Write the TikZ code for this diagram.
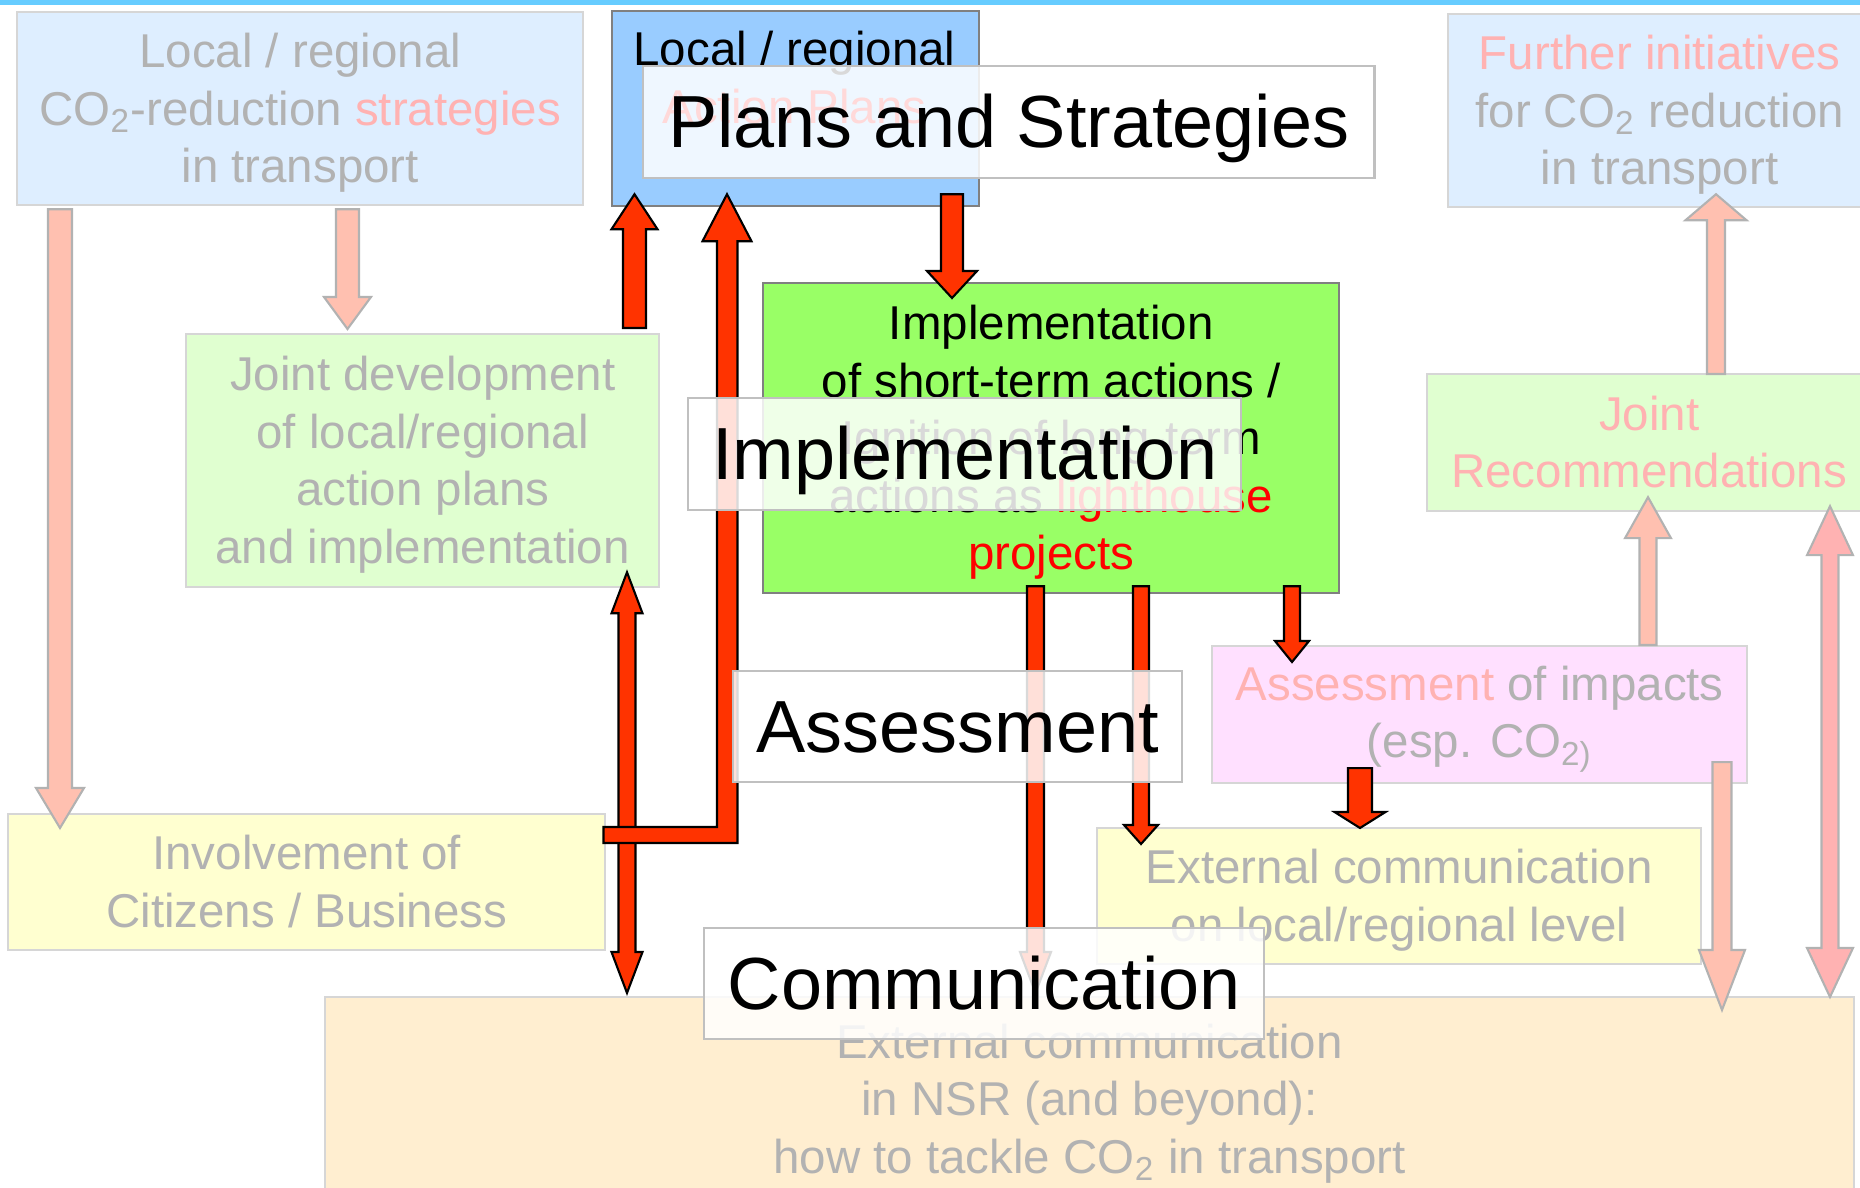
\documentclass[tikz,border=0pt]{standalone}
\usepackage{fontspec}
\setmainfont{Liberation Sans}
\usetikzlibrary{calc}
\definecolor{topbar}{RGB}{102,204,255}
\definecolor{fadegray}{RGB}{178,178,178}
\definecolor{fadepink}{RGB}{255,178,178}
\definecolor{lineLight}{RGB}{214,214,214}
\definecolor{lineDark}{RGB}{128,128,128}
\definecolor{lineStage}{RGB}{192,192,192}
\definecolor{fillStrat}{RGB}{222,238,255}
\definecolor{fillPlans}{RGB}{153,204,255}
\definecolor{fillImpl}{RGB}{153,255,102}
\definecolor{fillJoint}{RGB}{224,255,208}
\definecolor{fillCiti}{RGB}{255,255,208}
\definecolor{fillImpact}{RGB}{255,224,255}
\definecolor{fillNsr}{RGB}{255,238,208}
\definecolor{arrRed}{RGB}{255,51,0}
\definecolor{arrPale}{RGB}{255,192,176}
\definecolor{arrPink}{RGB}{255,178,178}
\newcommand{\ps}{\rule[-0.212em]{0pt}{1.117em}}
\newcommand{\smallfont}{\fontsize{13.5}{16.36}\selectfont}
\newcommand{\bigfont}{\fontsize{21}{25}\selectfont}
\newcommand{\blockarr}[6]{%
  \path[#1] let \p1=#2, \p2=#3, \n1={ifthenelse(\y2>\y1,1,-1)} in
    ({\x1-#4*0.01cm},{\y1}) -- ({\x1-#4*0.01cm},{\y2-(\n1)*#6*0.01cm})
    -- ({\x1-#5*0.01cm},{\y2-(\n1)*#6*0.01cm}) -- ({\x1},{\y2})
    -- ({\x1+#5*0.01cm},{\y2-(\n1)*#6*0.01cm}) -- ({\x1+#4*0.01cm},{\y2-(\n1)*#6*0.01cm})
    -- ({\x1+#4*0.01cm},{\y1}) -- cycle;}
\newcommand{\dblarr}[6]{%
  \path[#1] let \p1=#2, \p2=#3, \n1={ifthenelse(\y2>\y1,1,-1)} in
    ({\x1},{\y1}) -- ({\x1+#5*0.01cm},{\y1+(\n1)*#6*0.01cm}) -- ({\x1+#4*0.01cm},{\y1+(\n1)*#6*0.01cm})
    -- ({\x1+#4*0.01cm},{\y2-(\n1)*#6*0.01cm}) -- ({\x1+#5*0.01cm},{\y2-(\n1)*#6*0.01cm})
    -- ({\x1},{\y2}) -- ({\x1-#5*0.01cm},{\y2-(\n1)*#6*0.01cm}) -- ({\x1-#4*0.01cm},{\y2-(\n1)*#6*0.01cm})
    -- ({\x1-#4*0.01cm},{\y1+(\n1)*#6*0.01cm}) -- ({\x1-#5*0.01cm},{\y1+(\n1)*#6*0.01cm}) -- cycle;}
\begin{document}
\begin{tikzpicture}[x=0.01cm, y=-0.01cm,
        plain/.style={align=center, inner sep=0pt, font=\smallfont},
        box/.style={plain, draw=lineLight, line width=0.6pt, anchor=north west, text=fadegray},
        stage/.style={draw=lineStage, fill=white, fill opacity=0.85, text opacity=1, line width=0.6pt, anchor=north west, inner sep=0pt, font=\bigfont, execute at begin node=\ps},
        pale/.style={fill=arrPale, draw=fadegray, line width=0.6pt},
        redarr/.style={fill=arrRed, draw=black, line width=0.6pt}]
        \useasboundingbox (0,0) rectangle (1860,1188);
        \clip (0,0) rectangle (1860,1188);
        \fill[topbar] (0,0) rectangle (1860,5);
        \node[box, fill=fillStrat, minimum width=5.66cm, minimum height=1.93cm] (strat) at (16,11) {\ps Local / regional\\ CO\textsubscript{2}-reduction \textcolor{fadepink}{strategies}\\ in transport\ps};
        \node[box, draw=lineDark, fill=fillPlans, minimum width=3.67cm, minimum height=1.95cm] (plans) at (611,10) {};
        \node[plain, anchor=north] (plantxt) at (794.5,22) {\ps Local / regional\\ \textcolor{red}{Action Plans}\ps};
        \node[box, draw=lineDark, fill=fillImpl, text=black, minimum width=5.76cm, minimum height=3.10cm] (impl) at (762,282) {\ps Implementation\\ of short-term actions /\\ Ignition of long-term\\ actions as \textcolor{red}{lighthouse}\\ \textcolor{red}{projects}\ps};
        \node[box, fill=fillJoint, minimum width=4.73cm, minimum height=2.53cm] (dev) at (185,333) {\ps Joint development\\ of local/regional\\ action plans\\ and implementation\ps};
        \node[box, fill=fillCiti, minimum width=5.97cm, minimum height=1.36cm] (citi) at (7,813) {\ps Involvement of\\ Citizens / Business\ps};
        \node[box, fill=fillStrat, minimum width=4.23cm, minimum height=1.93cm] (further) at (1447,13) {\ps\textcolor{fadepink}{Further initiatives}\\ for CO\textsubscript{2} reduction\\ in transport\ps};
        \node[box, fill=fillJoint, text=fadepink, minimum width=4.44cm, minimum height=1.37cm] (recom) at (1426,373) {\ps Joint\\ Recommendations\ps};
        \node[box, fill=fillImpact, minimum width=5.35cm, minimum height=1.37cm] (impact) at (1211,645) {\ps\textcolor{fadepink}{Assessment} of impacts\\ (esp. CO\textsubscript{2)}\ps};
        \node[box, fill=fillCiti, minimum width=6.04cm, minimum height=1.36cm] (extloc) at (1096,827) {\ps External communication\\ on local/regional level\ps};
        \node[box, fill=fillNsr, minimum width=15.28cm, minimum height=2.04cm] (extnsr) at (324,996) {\ps External communication\\ in NSR (and beyond):\\ how to tackle CO\textsubscript{2} in transport\ps};
        \coordinate (cP1) at (60,0);
        \coordinate (cP2) at (347.5,0);
        \coordinate (cP3) at (1716,0);
        \coordinate (cP4) at (1648,0);
        \coordinate (cP5) at (1830,0);
        \coordinate (cP6) at (1722,0);
        \coordinate (cR1) at (634.5,0);
        \coordinate (cR2) at (727,0);
        \coordinate (cR3) at (627,0);
        \coordinate (cR4) at (952,0);
        \coordinate (cR5) at (1035.5,0);
        \coordinate (cR6) at (1141,0);
        \coordinate (cR7) at (1292,0);
        \coordinate (cR8) at (1360,0);
        \blockarr{pale}{($(cP1 |- strat.south)+(0,3)$)}{($(cP1 |- citi.north)+(0,15)$)}{12}{24}{40}
        \blockarr{pale}{($(cP2 |- strat.south)+(0,3)$)}{($(cP2 |- dev.north)+(0,-4)$)}{11.5}{23.5}{32}
        \blockarr{pale}{($(cP3 |- recom.north)+(0,1)$)}{($(cP3 |- further.south)+(0,-14)$)}{9}{30.5}{26}
        \blockarr{pale}{(cP4 |- impact.north)}{($(cP4 |- recom.south)+(0,-15)$)}{8.5}{23}{41}
        \dblarr{pale, fill=arrPink}{($(cP5 |- recom.south)+(0,-6)$)}{($(cP5 |- extnsr.north)+(0,1)$)}{8.5}{23}{49}
        \blockarr{pale}{($(cP6 |- impact.south)+(0,-22)$)}{($(cP6 |- extnsr.north)+(0,14)$)}{9.5}{23}{60}
        \blockarr{redarr}{($(cR1 |- dev.north)+(0,-5)$)}{($(cR1 |- plans.south)+(0,-13)$)}{11.5}{23}{35}
        \dblarr{redarr}{($(cR3 |- dev.south)+(0,-16)$)}{($(cR3 |- extnsr.north)+(0,-3)$)}{8.5}{15.5}{41}
        \path[redarr] let \p1=($(citi.north east)+(-3,14)$), \p2=($(cR2 |- plans.south)+(0,-13)$) in
            ({\x1},{\y1}) -- ({\x2-10*0.01cm},{\y1}) -- ({\x2-10*0.01cm},{\y2-47*0.01cm}) -- ({\x2-24.5*0.01cm},{\y2-47*0.01cm})
            -- ({\x2},{\y2}) -- ({\x2+24.5*0.01cm},{\y2-47*0.01cm}) -- ({\x2+10.5*0.01cm},{\y2-47*0.01cm})
            -- ({\x2+10.5*0.01cm},{\y1-16*0.01cm}) -- ({\x1},{\y1-16*0.01cm}) -- cycle;
        \blockarr{redarr}{($(cR4 |- plans.south)+(0,-13)$)}{($(cR4 |- impl.north)+(0,16)$)}{11}{25}{27}
        \blockarr{redarr}{($(cR5 |- impl.south)+(0,-8)$)}{($(cR5 |- extnsr.north)+(0,-3)$)}{8.5}{15.5}{41}
        \blockarr{redarr}{($(cR6 |- impl.south)+(0,-8)$)}{($(cR6 |- extloc.north)+(0,17)$)}{8}{17}{19}
        \blockarr{redarr}{($(cR7 |- impl.south)+(0,-8)$)}{($(cR7 |- impact.north)+(0,17)$)}{8}{17}{21}
        \blockarr{redarr}{($(cR8 |- impact.south)+(0,-16)$)}{($(cR8 |- extloc.north)+(0,1)$)}{12}{25.5}{16}
        \node[stage, minimum width=7.31cm, minimum height=1.12cm] (lplans) at (642,65) {Plans and Strategies};
        \node[stage, minimum width=5.53cm, minimum height=1.12cm] (limpl) at (687,397) {Implementation};
        \node[stage, minimum width=4.49cm, minimum height=1.11cm] (lass) at (732,670) {Assessment};
        \node[stage, minimum width=5.60cm, minimum height=1.11cm] (lcomm) at (703,927) {Communication};
\end{tikzpicture}
\end{document}
